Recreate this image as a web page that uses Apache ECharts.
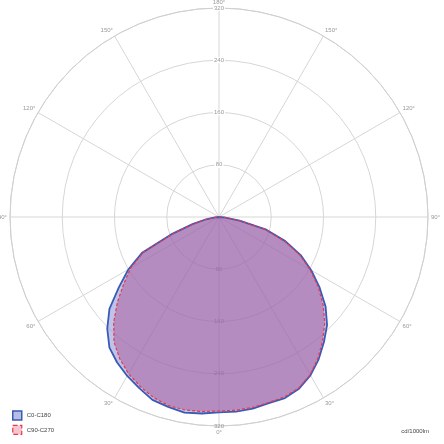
<!DOCTYPE html>
<html><head><meta charset="utf-8">
<script src="https://cdn.jsdelivr.net/npm/echarts@6/dist/echarts.min.js"></script>
<style>html,body{margin:0;padding:0;background:#fff}#c{width:444px;height:444px}</style>
</head><body><div id="c"></div>
<script>
// gamma angles (deg from nadir) for each half plane
const angles = [0,5,10,15,20,25,30,35,40,45,50,55,60,65,70,75,80,85,90];
// C0-C180 plane (blue)
const c0   = [302,302,304,301,298,289,281,272,261,242,219,187,160,130,78,42,20,6,0];
const c180 = [299,299,298,295,295,290,280,266,250,234,213,188,163,138,108,75,32,8,0];
// C90-C270 plane (red dashed)
const c90  = [298,299,300,299,294,286,277,265,250,228,203,178,156,128,76,40,20,6,0];
const c270 = [297,297,296,294,293,289,279,264,247,229,208,185,161,136,106,73,32,8,0];
const radiusTicks = [0,80,160,240,320];
const seriesNames = ['C0-C180','C90-C270'];
const unitText = 'cd/1000lm';

function plane(left, right){
  const d = [];
  for (let i = angles.length-1; i >= 0; i--) d.push([right[i], 360 - angles[i]]);
  for (let i = 0; i < angles.length; i++) d.push([left[i], angles[i]]);
  return d;
}

const chart = echarts.init(document.getElementById('c'));
const center = [219, 217];
const R = 209;
chart.setOption({
  animation:false,
  title:{text:unitText, right:10, bottom:5, textStyle:{fontSize:6, fontWeight:'normal', color:'#444', fontFamily:'Arial'}},
  legend:{
    orient:'vertical', left:7, bottom:4, itemWidth:9, itemHeight:9, itemGap:4,
    textStyle:{fontSize:6, color:'#444', fontFamily:'Arial'},
    data:[
      {name:seriesNames[0], icon:'rect', itemStyle:{color:'#b9bde3', borderColor:'#3a5bb5', borderWidth:1.5}},
      {name:seriesNames[1], icon:'rect', itemStyle:{color:'#f6c6d0', borderColor:'#e8384f', borderWidth:1.2, borderType:'dashed'}}
    ]
  },
  polar:[{center:center, radius:R},{center:center, radius:R}],
  angleAxis:[{
    polarIndex:0, type:'value', min:0, max:360, interval:30, startAngle:270, clockwise:true,
    axisLine:{lineStyle:{color:'#cfcfcf', width:1}},
    axisTick:{show:false},
    splitLine:{lineStyle:{color:'#d6d6d6', width:1}},
    axisLabel:{margin:3, fontSize:6, color:'#999', fontFamily:'Arial',
      formatter:v => v===360 ? '' : (v<=180 ? v : 360-v) + '°'}
  },{
    polarIndex:1, type:'value', min:0, max:360, startAngle:90, clockwise:true,
    axisLine:{show:false}, axisTick:{show:false}, splitLine:{show:false}, axisLabel:{show:false}
  }],
  radiusAxis:[{
    polarIndex:0, type:'value', min:radiusTicks[0], max:radiusTicks[4], interval:80,
    axisLine:{show:false}, axisTick:{show:false},
    splitLine:{lineStyle:{color:'#d6d6d6', width:1}},
    axisLabel:{showMinLabel:false, margin:0, align:'center', verticalAlign:'middle', rotate:0, fontSize:6, color:'#999', fontFamily:'Arial'}
  },{
    polarIndex:1, type:'value', min:radiusTicks[0], max:radiusTicks[4], interval:80,
    axisLine:{show:false}, axisTick:{show:false}, splitLine:{show:false},
    axisLabel:{showMinLabel:false, margin:0, align:'center', verticalAlign:'middle', rotate:0, fontSize:6, color:'#999', fontFamily:'Arial', backgroundColor:'#fff', padding:[0,1]}
  }],
  series:[
    {name:seriesNames[0], type:'line', coordinateSystem:'polar', polarIndex:0, symbol:'none',
     data:plane(c0, c180), lineStyle:{color:'#3a5bb5', width:1.8},
     itemStyle:{color:'#b9bde3'}, areaStyle:{color:'rgba(125,135,212,0.5)', opacity:1}},
    {name:seriesNames[1], type:'line', coordinateSystem:'polar', polarIndex:0, symbol:'none',
     data:plane(c90, c270), lineStyle:{color:'#e8384f', width:1.2, type:[3,2]},
     itemStyle:{color:'#f6c6d0'}, areaStyle:{color:'rgba(172,85,150,0.5)', opacity:1}}
  ]
});
</script></body></html>
